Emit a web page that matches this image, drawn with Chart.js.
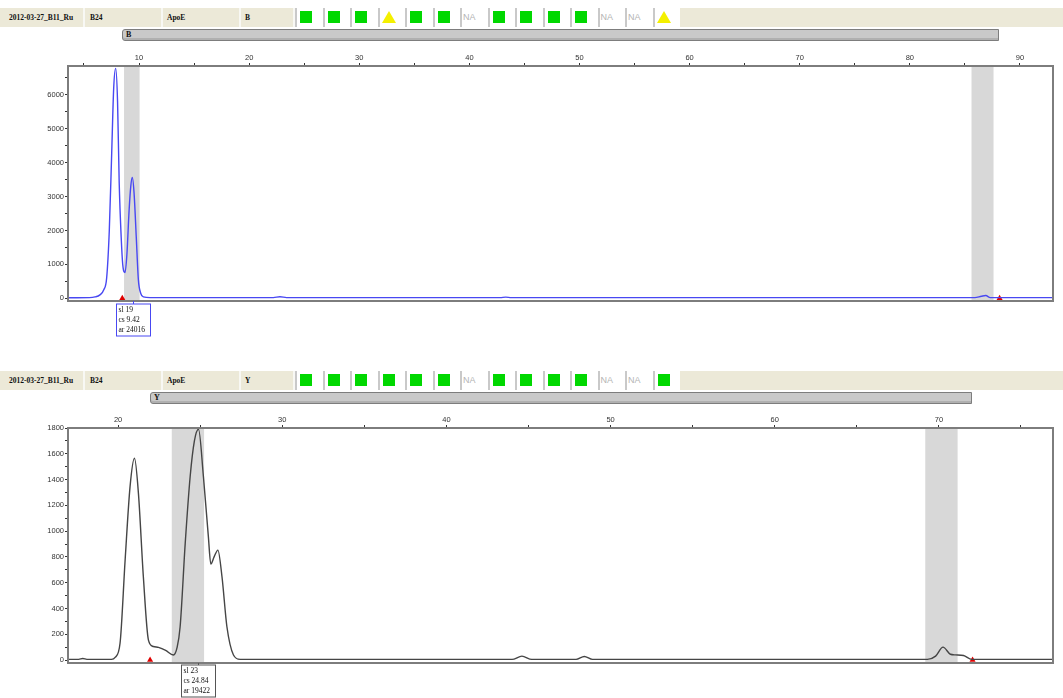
<!DOCTYPE html>
<html>
<head>
<meta charset="utf-8">
<title>ApoE traces</title>
<script src="https://cdn.jsdelivr.net/npm/chart.js"></script>
<style>
  body { margin: 0; width: 1063px; height: 698px; background: #fff; position: relative; overflow: hidden; }
  .hdr { position: absolute; left: 0; width: 1063px; height: 19px; background: #ece9d8; }
  .cell { position: absolute; top: 0; height: 19px; font: bold 7.5px 'Liberation Serif', serif; line-height: 19px; color: #111; padding-left: 2px; box-sizing: border-box; border-right: 2px solid #f8f8f4; }
  .icon { position: absolute; top: 0; height: 19px; width: 27.5px; background: #fff; border-left: 2px solid #c9c9c9; box-sizing: border-box; }
  .icon .sq { position: absolute; left: 3px; top: 3px; width: 12px; height: 12px; background: #00d800; }
  .icon .tri { position: absolute; left: 2px; top: 3px; width: 0; height: 0; border-left: 7px solid transparent; border-right: 7px solid transparent; border-bottom: 12px solid #f4f000; }
  .icon .na { position: absolute; left: 1px; top: 0; font: 9px 'Liberation Sans', sans-serif; line-height: 19px; color: #b4b4b4; }
  .bar { position: absolute; height: 12px; background: #c9c9c9; border: 1px solid #7d7d7d; border-radius: 3px 0 0 3px; box-sizing: border-box; font: bold 8px 'Liberation Serif', serif; line-height: 10px; padding-left: 3px; color: #111; box-shadow: inset 0 -2px 0 #b0b0b0; }
  canvas { position: absolute; left: 0; }
</style>
</head>
<body>
<div class="hdr" id="hdrTop" style="top:8px"></div>
<div class="bar" style="top:29px; left:122px; width:877px">B</div>
<canvas id="traceTop" width="1063" height="301" style="top:44px"></canvas>

<div class="hdr" id="hdrBot" style="top:371px"></div>
<div class="bar" style="top:392px; left:150px; width:822px">Y</div>
<canvas id="traceBot" width="1063" height="292" style="top:406px"></canvas>

<script>
// Header cells
const headerText = ['2012-03-27_B11_Ru', 'B24', 'ApoE'];
const topDye = 'B';
const botDye = 'Y';
// G = green square, Y = yellow triangle, NA = not available
const topStatus = ['G', 'G', 'G', 'Y', 'G', 'G', 'NA', 'G', 'G', 'G', 'G', 'NA', 'NA', 'Y'];
const botStatus = ['G', 'G', 'G', 'G', 'G', 'G', 'NA', 'G', 'G', 'G', 'G', 'NA', 'NA', 'G'];

// Top (blue) trace, size in bp vs. RFU
const topTraceX = [3.55, 5.5, 6.0, 6.45, 6.8, 7.06, 7.3, 7.52, 7.7, 7.88, 8.05, 8.2, 8.38, 8.52, 8.73, 8.9, 9.1, 9.25, 9.39, 9.55, 9.75, 9.94, 10.15, 10.4, 11, 22.2, 22.8, 23.4, 42.8, 43.3, 43.8, 85.9, 86.5, 86.9, 87.3, 93];
const topTraceY = [15, 20, 40, 100, 250, 600, 2000, 4300, 6200, 6780, 5800, 3400, 1800, 1000, 760, 1300, 2600, 3300, 3560, 3100, 1800, 550, 150, 40, 20, 20, 45, 20, 20, 35, 20, 20, 60, 80, 20, 20];
const topBins = [[8.64, 10.05], [85.6, 87.6]];
const topMarks = [8.48, 88.15];
const topCall = { cs: 9.42, lines: ['sl 19', 'cs 9.42', 'ar 24016'] };
const topXTicks = [5, 10, 15, 20, 25, 30, 35, 40, 45, 50, 55, 60, 65, 70, 75, 80, 85, 90];
const topYTicks = [0, 500, 1000, 1500, 2000, 2500, 3000, 3500, 4000, 4500, 5000, 5500, 6000, 6500];

// Bottom (black) trace
const botTraceX = [16.95, 17.6, 17.85, 18.1, 19.6, 19.82, 20.12, 20.43, 20.73, 21.0, 21.24, 21.54, 21.85, 22.15, 22.46, 22.9, 23.37, 23.6, 23.78, 24.09, 24.39, 24.65, 24.9, 25.2, 25.5, 25.65, 25.85, 26.08, 26.33, 26.63, 27.03, 27.44, 44.0, 44.6, 45.2, 47.9, 48.4, 48.9, 69.3, 69.8, 70.25, 70.7, 71.0, 71.5, 72.0, 76.95];
const botTraceY = [5, 5, 12, 5, 5, 20, 130, 776, 1345, 1565, 1293, 646, 155, 105, 98, 75, 39, 100, 258, 905, 1422, 1700, 1790, 1422, 957, 745, 800, 853, 646, 258, 39, 5, 5, 30, 5, 5, 28, 5, 5, 30, 100, 45, 40, 35, 5, 5];
const botBins = [[23.27, 25.24], [69.17, 71.14]];
const botMarks = [21.95, 72.05];
const botCall = { cs: 24.84, lines: ['sl 23', 'cs 24.84', 'ar 19422'] };
const botXTicks = [20, 25, 30, 35, 40, 45, 50, 55, 60, 65, 70, 75];
const botYTicks = [0, 100, 200, 300, 400, 500, 600, 700, 800, 900, 1000, 1100, 1200, 1300, 1400, 1500, 1600, 1700, 1800];

function buildHeader(id, dye, status) {
  const hdr = document.getElementById(id);
  const cells = [[0, 85, headerText[0]], [88, 163, headerText[1]], [165, 241, headerText[2]], [243, 295, dye]];
  cells.forEach(c => {
    const d = document.createElement('div');
    d.className = 'cell';
    d.style.left = c[0] + 'px';
    d.style.width = (c[1] - c[0]) + 'px';
    d.style.paddingLeft = (c[0] === 0 ? 9 : 2) + 'px';
    d.textContent = c[2];
    hdr.appendChild(d);
  });
  status.forEach((s, i) => {
    const d = document.createElement('div');
    d.className = 'icon';
    d.style.left = (295 + i * 27.5) + 'px';
    if (s === 'G') d.innerHTML = '<div class="sq"></div>';
    else if (s === 'Y') d.innerHTML = '<div class="tri"></div>';
    else d.innerHTML = '<div class="na">NA</div>';
    hdr.appendChild(d);
  });
}
buildHeader('hdrTop', topDye, topStatus);
buildHeader('hdrBot', botDye, botStatus);

// Grey bin bands behind the trace, frame and peak call box on top
const traceDecor = {
  id: 'traceDecor',
  beforeDatasetsDraw(chart, args, o) {
    const { ctx, chartArea: a, scales: { x } } = chart;
    ctx.save();
    ctx.fillStyle = '#d8d8d8';
    o.bins.forEach(b => {
      const x1 = x.getPixelForValue(b[0]);
      const x2 = x.getPixelForValue(b[1]);
      ctx.fillRect(x1, a.top, x2 - x1, a.bottom - a.top);
    });
    ctx.restore();
  },
  afterDraw(chart, args, o) {
    const { ctx, chartArea: a, scales: { x } } = chart;
    ctx.save();
    ctx.strokeStyle = '#7d7d7d';
    ctx.lineWidth = 2;
    ctx.strokeRect(a.left, a.top, a.right - a.left, a.bottom - a.top);
    // peak call label
    const px = Math.round(x.getPixelForValue(o.call.cs)) + 0.5;
    const top = a.bottom + o.gap;
    ctx.lineWidth = 1;
    ctx.strokeStyle = o.boxColor;
    ctx.beginPath();
    ctx.moveTo(px, a.bottom);
    ctx.lineTo(px, top);
    ctx.stroke();
    ctx.fillStyle = '#fff';
    ctx.fillRect(px - 17, top, 34, 32);
    ctx.strokeRect(px - 17, top, 34, 32);
    ctx.fillStyle = '#111';
    ctx.font = '7.5px "Liberation Serif"';
    ctx.textBaseline = 'middle';
    o.call.lines.forEach((t, i) => ctx.fillText(t, px - 15, top + 6 + i * 10));
    ctx.restore();
  }
};

function makeTrace(id, c) {
  const pts = c.traceX.map((v, i) => ({ x: v, y: c.traceY[i] }));
  const marks = c.marks.map(v => ({ x: v, y: 0 }));
  return new Chart(document.getElementById(id), {
    type: 'line',
    data: {
      datasets: [
        {
          data: pts,
          borderColor: c.color,
          borderWidth: 1.4,
          pointRadius: 0,
          fill: false,
          cubicInterpolationMode: 'monotone'
        },
        {
          type: 'scatter',
          data: marks,
          pointStyle: 'triangle',
          pointRadius: 3.5,
          backgroundColor: '#e00000',
          borderColor: '#e00000',
          borderWidth: 0,
          clip: false
        }
      ]
    },
    options: {
      responsive: false,
      animation: false,
      layout: { padding: { left: 8, right: 10, top: 0, bottom: c.padBottom } },
      plugins: {
        legend: { display: false },
        tooltip: { enabled: false },
        traceDecor: { bins: c.bins, call: c.call, boxColor: c.boxColor, gap: c.gap }
      },
      scales: {
        x: {
          type: 'linear',
          position: 'top',
          min: c.xMin,
          max: c.xMax,
          afterFit: s => { s.height = 22; },
          afterBuildTicks: s => { s.ticks = c.xTicks.map(v => ({ value: v })); },
          grid: { drawOnChartArea: false, drawTicks: true, tickLength: 3, color: '#333' },
          border: { display: false },
          ticks: {
            padding: 1,
            maxRotation: 0,
            autoSkip: false,
            color: '#333',
            font: { family: 'Liberation Sans', size: 7.5 },
            callback: v => (v % 10 === 0 ? v : '')
          }
        },
        y: {
          type: 'linear',
          min: c.yMin,
          max: c.yMax,
          afterFit: s => { s.width = 60; },
          afterBuildTicks: s => { s.ticks = c.yTicks.map(v => ({ value: v })); },
          grid: { drawOnChartArea: false, drawTicks: true, tickLength: 3, color: '#333' },
          border: { display: false },
          ticks: {
            padding: 1,
            autoSkip: false,
            color: '#333',
            font: { family: 'Liberation Sans', size: 7.5 },
            callback: v => (v % c.yLabelStep === 0 ? v : '')
          }
        }
      }
    },
    plugins: [traceDecor]
  });
}

makeTrace('traceTop', {
  traceX: topTraceX, traceY: topTraceY, bins: topBins, marks: topMarks, call: topCall,
  xTicks: topXTicks, yTicks: topYTicks, xMin: 3.55, xMax: 93, yMin: -80, yMax: 6850,
  yLabelStep: 1000, color: '#4848f2', boxColor: '#4848f2', padBottom: 44, gap: 3
});
makeTrace('traceBot', {
  traceX: botTraceX, traceY: botTraceY, bins: botBins, marks: botMarks, call: botCall,
  xTicks: botXTicks, yTicks: botYTicks, xMin: 16.95, xMax: 76.95, yMin: -23, yMax: 1800,
  yLabelStep: 200, color: '#454545', boxColor: '#555', padBottom: 35, gap: 2
});
</script>
</body>
</html>
